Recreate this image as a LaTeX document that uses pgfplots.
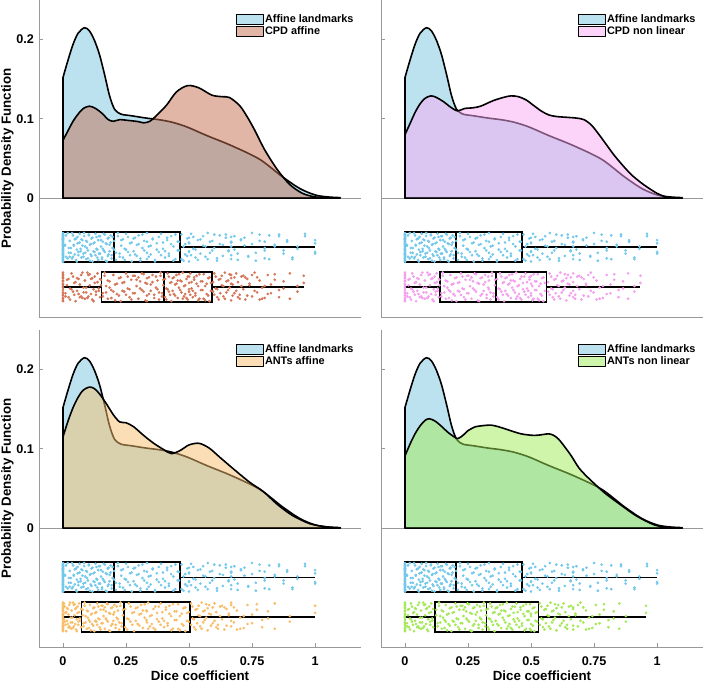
\documentclass[border=0pt]{standalone}
\usepackage{pgfplots}
\pgfplotsset{compat=1.18}
\usepackage{pgfplotstable}
\usepackage{fontspec}
\setmainfont{Liberation Sans}

\definecolor{cB}{RGB}{122,198,224}
\definecolor{cBd}{RGB}{115,200,235}
\definecolor{cCA}{RGB}{195,110,80}
\definecolor{cCAd}{RGB}{212,118,88}
\definecolor{cCN}{RGB}{250,170,245}
\definecolor{cCNd}{RGB}{243,160,238}
\definecolor{cAA}{RGB}{247,190,110}
\definecolor{cAAd}{RGB}{248,190,105}
\definecolor{cAN}{RGB}{160,235,85}
\definecolor{cANd}{RGB}{165,232,88}

% Affine landmarks jittered points: x, two jitter draws y and y2
\pgfplotstableread{
x y y2
0 -0.050 -0.080
0 -0.073 -0.051
0 -0.058 -0.071
0 -0.079 -0.059
0 -0.046 -0.047
0 -0.066 -0.076
0 -0.055 -0.063
0 -0.077 -0.054
0 -0.061 -0.069
0 -0.048 -0.044
0 -0.070 -0.074
0 -0.053 -0.060
0 -0.075 -0.052
0 -0.064 -0.078
0 -0.045 -0.065
0 -0.068 -0.049
0 -0.057 -0.072
0 -0.080 -0.056
0 -0.051 -0.067
0 -0.071 -0.052
0.008 -0.059 -0.060
0.012 -0.047 -0.074
0.019 -0.076 -0.044
0.023 -0.063 -0.069
0.027 -0.054 -0.074
0.031 -0.069 -0.063
0.036 -0.044 -0.076
0.04 -0.074 -0.047
0.043 -0.060 -0.059
0.047 -0.052 -0.071
0.052 -0.078 -0.051
0.055 -0.065 -0.080
0.058 -0.049 -0.057
0.061 -0.072 -0.068
0.066 -0.056 -0.045
0.07 -0.067 -0.064
0.073 -0.052 -0.075
0.077 -0.060 -0.053
0.081 -0.074 -0.070
0.084 -0.044 -0.048
0.088 -0.069 -0.061
0.092 -0.054 -0.077
0.095 -0.063 -0.055
0.099 -0.076 -0.066
0.103 -0.047 -0.046
0.107 -0.059 -0.079
0.11 -0.071 -0.058
0.113 -0.051 -0.073
0.117 -0.080 -0.050
0.121 -0.057 -0.067
0.125 -0.068 -0.056
0.129 -0.045 -0.072
0.133 -0.064 -0.049
0.136 -0.075 -0.065
0.14 -0.053 -0.078
0.143 -0.070 -0.048
0.147 -0.048 -0.070
0.151 -0.061 -0.053
0.155 -0.077 -0.075
0.158 -0.055 -0.064
0.162 -0.066 -0.045
0.166 -0.046 -0.068
0.17 -0.079 -0.057
0.174 -0.058 -0.080
0.178 -0.073 -0.051
0.181 -0.050 -0.071
0.185 -0.067 -0.059
0.189 -0.056 -0.047
0.193 -0.072 -0.076
0.197 -0.049 -0.063
0.203 -0.065 -0.054
0.21 -0.078 -0.069
0.218 -0.048 -0.044
0.225 -0.070 -0.074
0.231 -0.053 -0.060
0.238 -0.075 -0.052
0.245 -0.064 -0.078
0.25 -0.045 -0.065
0.258 -0.068 -0.049
0.266 -0.057 -0.072
0.273 -0.080 -0.056
0.28 -0.051 -0.067
0.286 -0.071 -0.050
0.293 -0.059 -0.073
0.3 -0.047 -0.058
0.307 -0.076 -0.079
0.315 -0.063 -0.046
0.322 -0.054 -0.066
0.333 -0.069 -0.055
0.333 -0.044 -0.077
0.34 -0.074 -0.061
0.348 -0.060 -0.071
0.356 -0.052 -0.051
0.365 -0.078 -0.080
0.372 -0.065 -0.057
0.38 -0.049 -0.068
0.389 -0.072 -0.045
0.397 -0.056 -0.064
0.405 -0.067 -0.075
0.413 -0.050 -0.053
0.42 -0.073 -0.070
0.429 -0.058 -0.048
0.438 -0.079 -0.061
0.446 -0.046 -0.077
0.455 -0.066 -0.055
0.46 -0.055 -0.066
0.47 -0.077 -0.046
0.478 -0.061 -0.079
0.485 -0.071 -0.058
0.493 -0.051 -0.073
0.5 -0.080 -0.050
0.5 -0.057 -0.067
0.5 -0.068 -0.056
0.508 -0.045 -0.072
0.517 -0.064 -0.049
0.526 -0.075 -0.065
0.535 -0.053 -0.078
0.545 -0.070 -0.052
0.556 -0.048 -0.060
0.565 -0.061 -0.074
0.574 -0.077 -0.044
0.583 -0.055 -0.069
0.592 -0.066 -0.054
0.6 -0.046 -0.063
0.611 -0.079 -0.076
0.622 -0.058 -0.047
0.634 -0.073 -0.059
0.646 -0.050 -0.046
0.657 -0.067 -0.066
0.667 -0.056 -0.055
0.667 -0.072 -0.077
0.667 -0.049 -0.061
0.68 -0.065 -0.048
0.693 -0.078 -0.070
0.706 -0.052 -0.053
0.72 -0.060 -0.050
0.735 -0.074 -0.073
0.75 -0.044 -0.058
0.765 -0.069 -0.079
0.78 -0.054 -0.046
0.8 -0.063 -0.066
0.8 -0.076 -0.055
0.818 -0.047 -0.077
0.84 -0.059 -0.061
0.857 -0.046 -0.048
0.875 -0.066 -0.070
0.889 -0.055 -0.053
0.91 -0.077 -0.075
0.93 -0.061 -0.064
0.96 -0.048 -0.045
1 -0.070 -0.068
1 -0.053 -0.057
}\blueT

% second-row points: sy, sz = two jitter draws; ca, cn, aa, an = x for CPD affine, CPD non linear, ANTs affine, ANTs non linear
\pgfplotstableread{
sy sz ca cn aa an
-0.100 -0.130 0 0 0 0
-0.123 -0.101 0 0 0 0
-0.108 -0.121 0 0 0 0
-0.129 -0.109 0 0 0 0
-0.096 -0.097 0 0 0 0
-0.116 -0.126 0 0 0 0
-0.105 -0.113 0 0 0 0
-0.127 -0.104 0 0 0 0
-0.111 -0.119 0 0 0 0
-0.098 -0.094 0 0 0 0
-0.120 -0.124 0.01 0.009 0 0.008
-0.103 -0.110 0.016 0.014 0 0.012
-0.125 -0.102 0.022 0.019 0 0.016
-0.114 -0.128 0.028 0.024 0 0.02
-0.095 -0.115 0.034 0.029 0.004 0.024
-0.118 -0.099 0.04 0.034 0.007 0.028
-0.107 -0.122 0.045 0.039 0.01 0.032
-0.130 -0.106 0.05 0.044 0.013 0.036
-0.101 -0.117 0.056 0.049 0.016 0.04
-0.121 -0.102 0.062 0.054 0.019 0.044
-0.109 -0.125 0.067 0.059 0.022 0.048
-0.097 -0.124 0.072 0.064 0.025 0.052
-0.126 -0.094 0.077 0.069 0.028 0.056
-0.113 -0.119 0.082 0.074 0.031 0.06
-0.104 -0.127 0.087 0.079 0.034 0.064
-0.119 -0.113 0.092 0.084 0.037 0.068
-0.094 -0.126 0.097 0.089 0.04 0.072
-0.124 -0.097 0.101 0.094 0.043 0.076
-0.110 -0.096 0.106 0.099 0.046 0.08
-0.102 -0.121 0.111 0.104 0.049 0.084
-0.128 -0.101 0.116 0.109 0.052 0.088
-0.115 -0.130 0.121 0.114 0.055 0.092
-0.099 -0.107 0.126 0.118 0.058 0.096
-0.122 -0.118 0.131 0.122 0.061 0.1
-0.106 -0.095 0.137 0.126 0.064 0.104
-0.117 -0.114 0.142 0.13 0.067 0.108
-0.102 -0.125 0.147 0.134 0.072 0.112
-0.110 -0.103 0.151 0.137 0.078 0.124
-0.124 -0.120 0.158 0.144 0.082 0.13
-0.094 -0.098 0.165 0.15 0.086 0.135
-0.119 -0.111 0.171 0.156 0.09 0.14
-0.104 -0.127 0.178 0.162 0.095 0.146
-0.113 -0.105 0.185 0.168 0.099 0.151
-0.126 -0.116 0.192 0.174 0.103 0.157
-0.097 -0.118 0.2 0.18 0.107 0.162
-0.109 -0.129 0.207 0.186 0.111 0.167
-0.121 -0.108 0.214 0.192 0.115 0.173
-0.101 -0.123 0.222 0.198 0.12 0.178
-0.130 -0.100 0.229 0.204 0.124 0.184
-0.107 -0.117 0.236 0.21 0.128 0.189
-0.118 -0.106 0.243 0.216 0.132 0.194
-0.095 -0.122 0.25 0.222 0.136 0.2
-0.114 -0.099 0.257 0.228 0.14 0.205
-0.125 -0.115 0.264 0.234 0.145 0.211
-0.103 -0.128 0.271 0.24 0.149 0.216
-0.120 -0.098 0.278 0.246 0.153 0.221
-0.098 -0.120 0.285 0.252 0.157 0.227
-0.111 -0.103 0.292 0.258 0.161 0.232
-0.127 -0.100 0.299 0.264 0.166 0.238
-0.105 -0.114 0.306 0.27 0.17 0.243
-0.116 -0.095 0.313 0.276 0.174 0.248
-0.096 -0.118 0.32 0.282 0.178 0.254
-0.129 -0.107 0.327 0.288 0.183 0.259
-0.108 -0.130 0.333 0.294 0.187 0.265
-0.123 -0.101 0.333 0.3 0.191 0.27
-0.100 -0.121 0.341 0.306 0.196 0.275
-0.117 -0.109 0.348 0.312 0.2 0.281
-0.106 -0.097 0.355 0.318 0.204 0.286
-0.122 -0.126 0.362 0.324 0.209 0.292
-0.099 -0.113 0.369 0.33 0.213 0.297
-0.115 -0.104 0.375 0.333 0.218 0.302
-0.128 -0.119 0.381 0.339 0.223 0.308
-0.098 -0.094 0.387 0.345 0.228 0.313
-0.120 -0.124 0.393 0.351 0.233 0.318
-0.103 -0.110 0.398 0.357 0.238 0.322
-0.125 -0.102 0.405 0.366 0.247 0.329
-0.114 -0.128 0.41 0.371 0.254 0.333
-0.095 -0.115 0.415 0.377 0.261 0.338
-0.118 -0.099 0.42 0.382 0.268 0.344
-0.107 -0.122 0.425 0.388 0.275 0.349
-0.130 -0.106 0.43 0.393 0.282 0.355
-0.101 -0.117 0.435 0.398 0.289 0.36
-0.121 -0.100 0.44 0.404 0.296 0.366
-0.109 -0.123 0.445 0.409 0.303 0.371
-0.097 -0.108 0.45 0.414 0.31 0.377
-0.126 -0.104 0.455 0.42 0.317 0.382
-0.113 -0.096 0.46 0.425 0.324 0.388
-0.104 -0.116 0.465 0.43 0.331 0.393
-0.119 -0.105 0.47 0.436 0.333 0.398
-0.094 -0.127 0.475 0.441 0.338 0.404
-0.124 -0.111 0.48 0.446 0.345 0.409
-0.110 -0.121 0.485 0.452 0.352 0.415
-0.102 -0.126 0.49 0.457 0.359 0.42
-0.128 -0.099 0.495 0.462 0.366 0.426
-0.115 -0.107 0.5 0.468 0.373 0.431
-0.099 -0.118 0.5 0.473 0.38 0.436
-0.122 -0.095 0.505 0.478 0.387 0.442
-0.106 -0.114 0.51 0.484 0.394 0.447
-0.117 -0.125 0.515 0.489 0.401 0.453
-0.100 -0.103 0.52 0.494 0.408 0.458
-0.123 -0.120 0.525 0.5 0.415 0.464
-0.108 -0.098 0.53 0.5 0.422 0.469
-0.129 -0.111 0.536 0.505 0.429 0.474
-0.096 -0.127 0.541 0.51 0.436 0.48
-0.116 -0.105 0.547 0.516 0.443 0.485
-0.105 -0.116 0.553 0.521 0.45 0.491
-0.127 -0.096 0.558 0.527 0.457 0.496
-0.111 -0.129 0.564 0.532 0.464 0.5
-0.121 -0.108 0.57 0.538 0.471 0.5
-0.101 -0.123 0.576 0.543 0.478 0.507
-0.130 -0.100 0.581 0.549 0.485 0.513
-0.107 -0.117 0.587 0.555 0.492 0.518
-0.118 -0.106 0.595 0.568 0.499 0.524
-0.095 -0.122 0.6 0.574 0.508 0.535
-0.114 -0.099 0.606 0.58 0.514 0.541
-0.125 -0.115 0.612 0.586 0.52 0.547
-0.103 -0.128 0.618 0.592 0.526 0.553
-0.120 -0.102 0.624 0.598 0.532 0.559
-0.098 -0.110 0.63 0.604 0.538 0.565
-0.111 -0.124 0.636 0.61 0.544 0.571
-0.127 -0.094 0.642 0.616 0.55 0.577
-0.105 -0.119 0.648 0.622 0.556 0.583
-0.116 -0.104 0.655 0.628 0.562 0.589
-0.096 -0.113 0.661 0.634 0.568 0.595
-0.129 -0.101 0.667 0.64 0.574 0.601
-0.108 -0.097 0.667 0.646 0.58 0.608
-0.123 -0.109 0.673 0.652 0.587 0.615
-0.100 -0.120 0.68 0.658 0.594 0.622
-0.117 -0.095 0.687 0.667 0.601 0.629
-0.106 -0.125 0.694 0.667 0.608 0.636
-0.122 -0.127 0.701 0.675 0.615 0.643
-0.099 -0.111 0.708 0.683 0.623 0.65
-0.115 -0.098 0.715 0.691 0.631 0.658
-0.128 -0.100 0.723 0.7 0.64 0.667
-0.102 -0.123 0.731 0.709 0.649 0.667
-0.110 -0.108 0.74 0.718 0.658 0.676
-0.124 -0.097 0.75 0.727 0.667 0.686
-0.094 -0.117 0.76 0.737 0.667 0.696
-0.119 -0.100 0.77 0.748 0.678 0.707
-0.104 -0.128 0.78 0.76 0.69 0.718
-0.113 -0.127 0.79 0.772 0.703 0.73
-0.126 -0.111 0.8 0.785 0.717 0.743
-0.097 -0.121 0.812 0.8 0.732 0.757
-0.109 -0.120 0.825 0.815 0.75 0.772
-0.096 -0.103 0.84 0.83 0.769 0.789
-0.116 -0.125 0.857 0.847 0.79 0.807
-0.105 -0.114 0.875 0.865 0.813 0.828
-0.127 -0.095 0.9 0.885 0.84 0.85
-0.111 -0.118 0.93 0.91 0.9 0.876
-0.098 -0.107 0.955 0.934 1 0.956
}\secT

\pgfplotsset{
  rc/.style={
    scale only axis, width=322pt, height=317pt,
    xmin=-0.095, xmax=1.182, ymin=-0.15, ymax=0.25,
    axis x line*=bottom, axis y line*=left,
    axis line style={-, draw=black!40, line width=0.8pt},
    tick style={black!40, line width=0.8pt},
    major tick length=4pt, tick align=inside,
    ytick={0,0.1,0.2},
    xtick={0,0.25,0.5,0.75,1},
    xticklabels={0,0.25,0.5,0.75,1},
    tick label style={font=\fontsize{12.6}{14}\selectfont\bfseries},
    label style={font=\fontsize{13.3}{15}\selectfont\bfseries},
    yticklabel style={anchor=east, inner sep=0pt, xshift=-5pt},
    xticklabel style={anchor=base, inner sep=0pt, yshift=-19pt},
    xlabel style={at={(axis description cs:0.5,0)}, anchor=base, yshift=-34pt, inner sep=0pt},
    ylabel style={at={(axis description cs:-0.098,0.5)}, anchor=center},
    legend style={at={(0.979,0.955)}, anchor=north east, draw=none, fill=none,
      inner sep=0pt, outer sep=0pt, row sep=0.5pt,
      font=\fontsize{10.9}{12}\selectfont\bfseries,
      nodes={inner sep=0.8pt}},
    legend cell align=left,
    legend image code/.code={\draw[##1, draw=black, line width=1pt] (0pt,-4.8pt) rectangle (27pt,4.8pt);},
    clip=false,
  },
  dens/.style={draw=black, line width=1.6pt, line join=round, fill opacity=0.5, smooth, tension=0.5},
  jitdots/.style={only marks, mark=*, mark size=1.15pt, color=#1, fill=#1, draw=none, mark options={solid, fill=#1, draw=none}, forget plot},
}

% #1 min, #2 q1, #3 median, #4 q3, #5 max, #6 ylow, #7 ymid, #8 yhigh
\newcommand{\rbox}[8]{%
  \addplot[black, line width=1.2pt, forget plot] coordinates {(#1,#7) (#2,#7)};
  \addplot[black, line width=1.2pt, forget plot] coordinates {(#4,#7) (#5,#7)};
  \addplot[black, line width=1.6pt, line cap=rect, forget plot] coordinates {(#2,#6) (#4,#6) (#4,#8) (#2,#8) (#2,#6)};
  \addplot[black, line width=1.6pt, forget plot] coordinates {(#3,#6) (#3,#8)};
}

\newcommand{\zeroline}{\addplot[black!40, line width=0.8pt, forget plot] coordinates {(-0.095,0) (1.182,0)};}

\newcommand{\bluedens}{%
  \addplot[dens, fill=cB] coordinates {(0,0.152) (0.02,0.174) (0.04,0.194) (0.06,0.208) (0.085,0.215) (0.105,0.211) (0.125,0.199) (0.145,0.181) (0.165,0.156) (0.185,0.129) (0.205,0.112) (0.23,0.106) (0.27,0.104) (0.33,0.101) (0.38,0.099) (0.43,0.096) (0.49,0.09) (0.57,0.079) (0.67,0.066) (0.78,0.049) (0.87,0.027) (0.94,0.012) (1.0,0.004) (1.05,0.0015) (1.1,0.0006)} \closedcycle;
  \addlegendentry{Affine landmarks}
}

\newcommand{\bluepts}{%
  \addplot[jitdots=cBd] table[x=x, y=y] {\blueT};
  \addplot[jitdots=cBd] table[x=x, y=y2] {\blueT};
}

% #1 = x column, #2 = colour
\newcommand{\secpts}[2]{%
  \addplot[jitdots=#2] table[x=#1, y=sy] {\secT};
  \addplot[jitdots=#2] table[x=#1, y=sz] {\secT};
}

\begin{document}
\begin{tikzpicture}
\path[use as bounding box] (0,0) rectangle (710pt,683pt);

% ---------------- top left: CPD affine
\begin{axis}[rc, at={(39pt,366pt)}, anchor=south west,
  xtick=\empty, yticklabels={0,0.1,0.2},
  ylabel={Probability Density Function}]
\zeroline
\bluedens
\addplot[dens, fill=cCA] coordinates {(0,0.073) (0.02,0.085) (0.04,0.097) (0.06,0.106) (0.08,0.113) (0.105,0.116) (0.13,0.113) (0.155,0.107) (0.18,0.099) (0.2,0.097) (0.225,0.099) (0.26,0.098) (0.3,0.0965) (0.32,0.095) (0.345,0.097) (0.37,0.104) (0.41,0.117) (0.45,0.134) (0.495,0.142) (0.54,0.139) (0.59,0.13) (0.63,0.128) (0.66,0.127) (0.70,0.117) (0.73,0.103) (0.76,0.086) (0.80,0.061) (0.85,0.036) (0.9,0.017) (0.95,0.006) (1.0,0.0015) (1.05,0.0003)} \closedcycle;
\addlegendentry{CPD affine}
\bluepts
\secpts{ca}{cCAd}
\rbox{0}{0}{0.202}{0.463}{1.0}{-0.0807}{-0.0618}{-0.0429}
\rbox{0}{0.153}{0.401}{0.59}{0.955}{-0.1311}{-0.1122}{-0.0933}
\end{axis}

% ---------------- top right: CPD non linear
\begin{axis}[rc, at={(381pt,366pt)}, anchor=south west,
  xtick=\empty, yticklabels={}]
\zeroline
\bluedens
\addplot[dens, fill=cCN] coordinates {(0,0.08) (0.02,0.094) (0.04,0.108) (0.06,0.119) (0.08,0.126) (0.103,0.129) (0.125,0.127) (0.156,0.121) (0.18,0.115) (0.209,0.11) (0.235,0.113) (0.27,0.114) (0.30,0.116) (0.35,0.123) (0.39,0.127) (0.42,0.129) (0.45,0.128) (0.48,0.124) (0.51,0.117) (0.54,0.11) (0.57,0.105) (0.6,0.103) (0.64,0.102) (0.68,0.101) (0.71,0.099) (0.74,0.092) (0.77,0.08) (0.8,0.067) (0.83,0.054) (0.87,0.039) (0.9,0.029) (0.93,0.021) (0.96,0.014) (1.0,0.006) (1.03,0.002) (1.05,0.0005)} \closedcycle;
\addlegendentry{CPD non linear}
\bluepts
\secpts{cn}{cCNd}
\rbox{0}{0}{0.202}{0.463}{1.0}{-0.0807}{-0.0618}{-0.0429}
\rbox{0}{0.139}{0.361}{0.562}{0.934}{-0.1311}{-0.1122}{-0.0933}
\end{axis}

% ---------------- bottom left: ANTs affine
\begin{axis}[rc, at={(39pt,36pt)}, anchor=south west,
  yticklabels={0,0.1,0.2},
  ylabel={Probability Density Function}, xlabel={Dice coefficient}]
\zeroline
\bluedens
\addplot[dens, fill=cAA] coordinates {(0,0.115) (0.02,0.135) (0.04,0.152) (0.06,0.165) (0.08,0.174) (0.105,0.178) (0.125,0.176) (0.146,0.169) (0.172,0.157) (0.2,0.143) (0.225,0.134) (0.25,0.133) (0.28,0.128) (0.32,0.117) (0.36,0.107) (0.40,0.099) (0.43,0.094) (0.465,0.098) (0.50,0.105) (0.54,0.107) (0.58,0.101) (0.62,0.09) (0.675,0.075) (0.74,0.058) (0.795,0.046) (0.85,0.03) (0.91,0.016) (0.98,0.0055) (1.05,0.0013) (1.1,0.0003)} \closedcycle;
\addlegendentry{ANTs affine}
\bluepts
\secpts{aa}{cAAd}
\rbox{0}{0}{0.202}{0.463}{1.0}{-0.0807}{-0.0618}{-0.0429}
\rbox{0}{0.074}{0.241}{0.503}{1.0}{-0.1311}{-0.1122}{-0.0933}
\end{axis}

% ---------------- bottom right: ANTs non linear
\begin{axis}[rc, at={(381pt,36pt)}, anchor=south west,
  yticklabels={}, xlabel={Dice coefficient}]
\zeroline
\bluedens
\addplot[dens, fill=cAN] coordinates {(0,0.091) (0.02,0.106) (0.04,0.119) (0.06,0.129) (0.08,0.136) (0.097,0.138) (0.12,0.135) (0.143,0.129) (0.17,0.121) (0.196,0.115) (0.21,0.113) (0.23,0.117) (0.25,0.123) (0.28,0.128) (0.30,0.129) (0.34,0.13) (0.37,0.128) (0.4,0.125) (0.46,0.119) (0.513,0.117) (0.545,0.118) (0.57,0.119) (0.59,0.117) (0.61,0.112) (0.635,0.102) (0.66,0.091) (0.69,0.076) (0.725,0.064) (0.79,0.045) (0.857,0.029) (0.92,0.015) (0.99,0.004) (1.05,0.0005)} \closedcycle;
\addlegendentry{ANTs non linear}
\bluepts
\secpts{an}{cANd}
\rbox{0}{0}{0.202}{0.463}{1.0}{-0.0807}{-0.0618}{-0.0429}
\rbox{0}{0.119}{0.324}{0.529}{0.956}{-0.1311}{-0.1122}{-0.0933}
\end{axis}
\end{tikzpicture}
\end{document}
